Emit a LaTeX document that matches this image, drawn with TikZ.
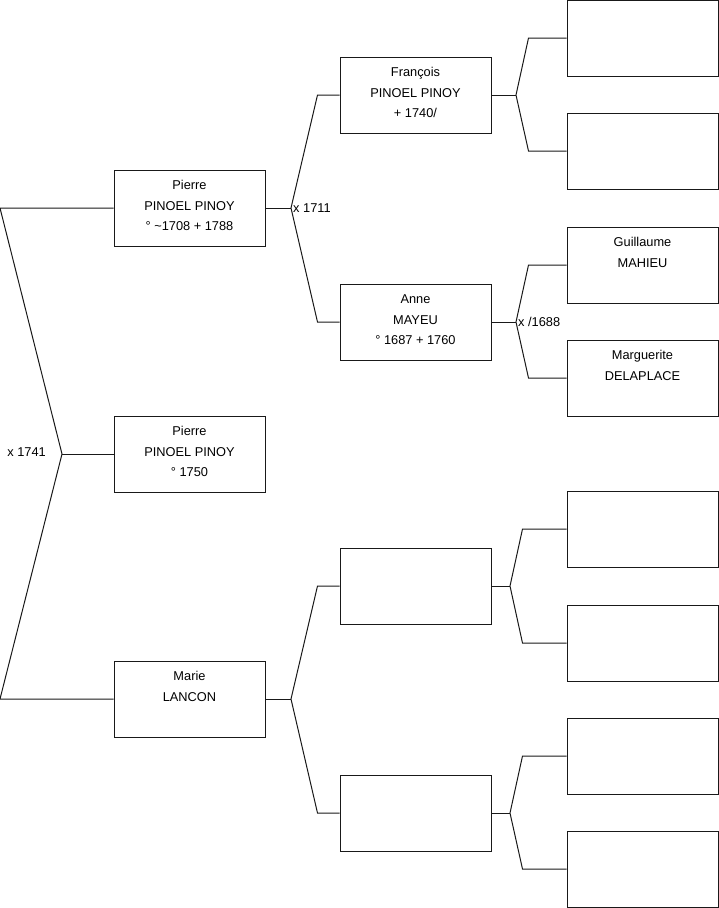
\documentclass[tikz,border=0pt]{standalone}
\usepackage{fontspec}
\setmainfont{Liberation Sans}
\usepackage{tikz}
\usetikzlibrary{positioning}
\tikzset{
  person/.style={rectangle, draw=black!90, minimum width=151pt,
    minimum height=76pt, inner sep=0pt, line width=1pt},
  persontext/.style={anchor=north, align=center, inner sep=0pt,
    font=\fontsize{12.8}{20.5}\selectfont, yshift=-11pt},
  link/.style={line width=1pt, color=black!90},
  marriage/.style={font=\fontsize{12.8}{15}\selectfont, inner sep=0pt}
}

\begin{document}
\begin{tikzpicture}[x=1pt, y=-1pt]
  \useasboundingbox (0,0) rectangle (719,908);
  % generation 1
  \node[person, label={[persontext]north:{Pierre\\PINOEL PINOY\\° \textasciitilde1708 + 1788}}] (father) at (189.5,208) {};
  \node[person, label={[persontext]north:{Pierre\\PINOEL PINOY\\° 1750}}] (child) at (189.5,454) {};
  \node[person, label={[persontext]north:{Marie\\LANCON}}] (mother) at (189.5,699) {};
  % generation 2
  \node[person, label={[persontext]north:{François\\PINOEL PINOY\\+ 1740/}}] (ff) at (415.5,95) {};
  \node[person, label={[persontext]north:{Anne\\MAYEU\\° 1687 + 1760}}] (fm) at (415.5,322) {};
  \node[person] (mf) at (415.5,586) {};
  \node[person] (mm) at (415.5,813) {};
  % generation 3
  \node[person] (fff) at (642.5,38) {};
  \node[person] (ffm) at (642.5,151) {};
  \node[person, label={[persontext]north:{Guillaume\\MAHIEU}}] (fmf) at (642.5,265) {};
  \node[person, label={[persontext]north:{Marguerite\\DELAPLACE}}] (fmm) at (642.5,378) {};
  \node[person] (mff) at (642.5,529) {};
  \node[person] (mfm) at (642.5,643) {};
  \node[person] (mmf) at (642.5,756) {};
  \node[person] (mmm) at (642.5,869) {};

  % parents of the child
  \coordinate (k0) at (62,454);
  \coordinate (k0a) at (0,208);
  \coordinate (k0b) at (0,699);
  \draw[link] (father.west) -- (k0a) -- (k0) -- (k0b) -- (mother.west);
  \draw[link] (child.west) -- (k0);
  \node[marriage, anchor=east] (x0) at (46,452) {x 1741};

  % grandparents
  \coordinate (k1) at (291,208);
  \draw[link] (father.east) -- (k1);
  \draw[link] (ff.west) -- ([xshift=-22pt]ff.west) -- (k1) -- ([xshift=-22pt]fm.west) -- (fm.west);
  \node[marriage, anchor=west] (x1) at (293,208) {x 1711};

  \coordinate (k2) at (291,699);
  \draw[link] (mother.east) -- (k2);
  \draw[link] (mf.west) -- ([xshift=-22pt]mf.west) -- (k2) -- ([xshift=-22pt]mm.west) -- (mm.west);

  % great-grandparents
  \coordinate (k3) at (516,95);
  \draw[link] (ff.east) -- (k3);
  \draw[link] (fff.west) -- ([xshift=-38pt]fff.west) -- (k3) -- ([xshift=-38pt]ffm.west) -- (ffm.west);

  \coordinate (k4) at (516,322);
  \draw[link] (fm.east) -- (k4);
  \draw[link] (fmf.west) -- ([xshift=-38pt]fmf.west) -- (k4) -- ([xshift=-38pt]fmm.west) -- (fmm.west);
  \node[marriage, anchor=west] (x4) at (518,322) {x /1688};

  \coordinate (k5) at (510,586);
  \draw[link] (mf.east) -- (k5);
  \draw[link] (mff.west) -- ([xshift=-44pt]mff.west) -- (k5) -- ([xshift=-44pt]mfm.west) -- (mfm.west);

  \coordinate (k6) at (510,813);
  \draw[link] (mm.east) -- (k6);
  \draw[link] (mmf.west) -- ([xshift=-44pt]mmf.west) -- (k6) -- ([xshift=-44pt]mmm.west) -- (mmm.west);
\end{tikzpicture}
\end{document}
